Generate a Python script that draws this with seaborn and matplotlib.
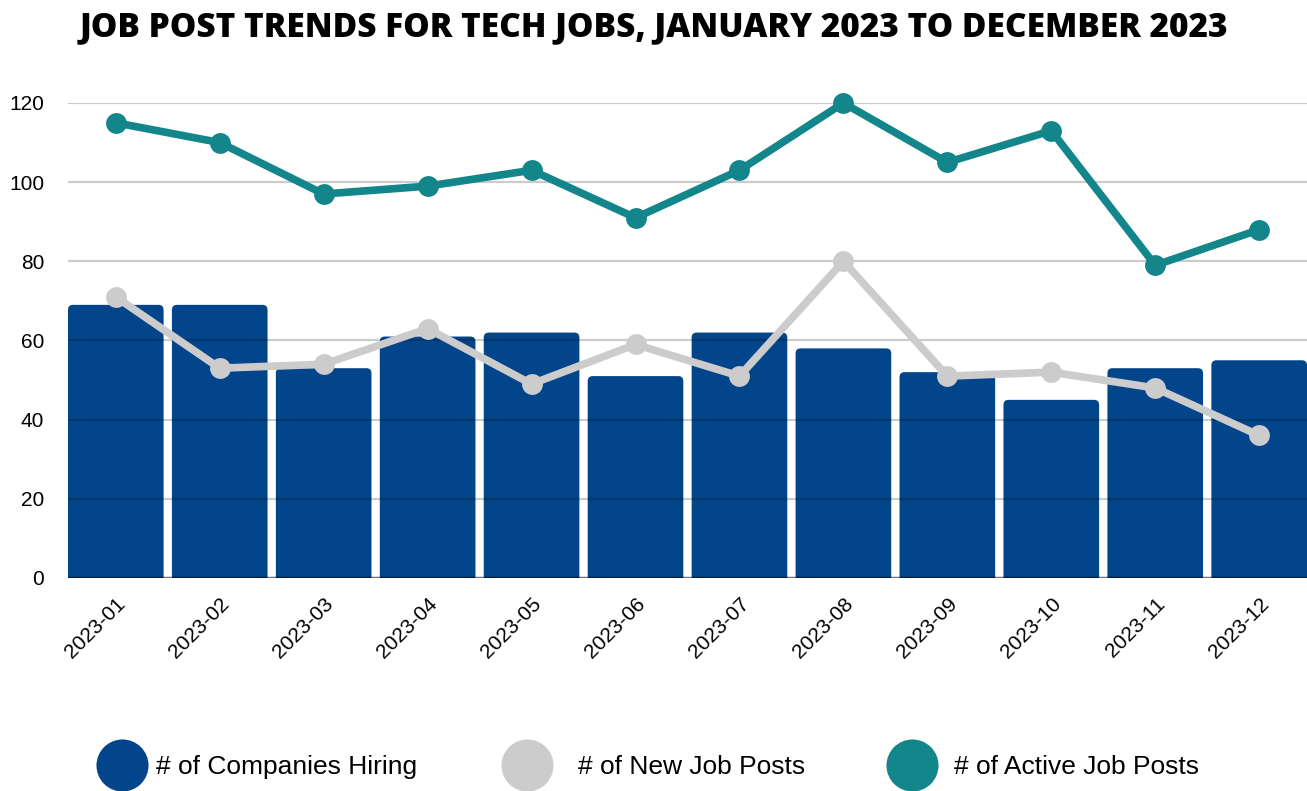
import matplotlib
matplotlib.use("Agg")
import matplotlib.pyplot as plt
from matplotlib.lines import Line2D
from matplotlib.patches import FancyBboxPatch
import numpy as np
import pandas as pd
import seaborn as sns

months = ["2023-01", "2023-02", "2023-03", "2023-04", "2023-05", "2023-06",
          "2023-07", "2023-08", "2023-09", "2023-10", "2023-11", "2023-12"]
companies_hiring = [69, 69, 53, 61, 62, 51, 62, 58, 52, 45, 53, 55]
new_job_posts = [71, 53, 54, 63, 49, 59, 51, 80, 51, 52, 48, 36]
active_job_posts = [115, 110, 97, 99, 103, 91, 103, 120, 105, 113, 79, 88]
y_ticks = [0, 20, 40, 60, 80, 100, 120]

NAVY = "#03458A"
GREY = "#CCCCCC"
TEAL = "#12868A"

sns.set_theme(style="white")
plt.rcParams["font.family"] = ["Liberation Sans", "DejaVu Sans"]
plt.rcParams["text.color"] = "black"

df = pd.DataFrame({
    "month": months,
    "idx": np.arange(len(months)),
    "companies": companies_hiring,
    "new": new_job_posts,
    "active": active_job_posts,
})

fig = plt.figure(figsize=(13.07, 7.91), dpi=100)
ax = fig.add_axes([0.052, 0.2693, 0.948, 0.6005])

sns.barplot(data=df, x="month", y="companies", color=NAVY, width=0.92,
            saturation=1, ax=ax, zorder=2)

ax.set_xlim(-0.46, len(months) - 0.54)
ax.set_ylim(0, 120)

# give the bars softly rounded top corners
px_x = ax.get_window_extent().width / (ax.get_xlim()[1] - ax.get_xlim()[0])
px_y = ax.get_window_extent().height / (ax.get_ylim()[1] - ax.get_ylim()[0])
radius = 5.0 / px_x
for bar in list(ax.patches):
    x0, w, h = bar.get_x(), bar.get_width(), bar.get_height()
    rounded = FancyBboxPatch((x0, -5), w, h + 5,
                             boxstyle=f"round,pad=0,rounding_size={radius}",
                             mutation_aspect=px_x / px_y,
                             facecolor=bar.get_facecolor(), edgecolor="none",
                             zorder=2)
    rounded.set_clip_path(ax.patch)
    bar.remove()
    ax.add_patch(rounded)

# light grid drawn over the bars so it darkens them slightly
for t in y_ticks[1:]:
    ax.axhline(t, color="black", alpha=0.2, lw=1.6, zorder=3)
ax.axhline(0, color="black", alpha=0.55, lw=2.5, zorder=3)

sns.lineplot(data=df, x="idx", y="new", color=GREY, lw=5.5, marker="o",
             markersize=15, markeredgewidth=0, ax=ax, zorder=4, clip_on=False)
sns.lineplot(data=df, x="idx", y="active", color=TEAL, lw=5.5, marker="o",
             markersize=15, markeredgewidth=0, ax=ax, zorder=5, clip_on=False)

ax.set_xlim(-0.46, len(months) - 0.54)
ax.set_ylim(0, 120)
ax.set_yticks(y_ticks)
ax.set_yticklabels([str(t) for t in y_ticks], fontsize=15)
ax.set_xticks(range(len(months)))
ax.set_xticklabels(months, fontsize=15, rotation=45, ha="right",
                   rotation_mode="anchor")
ax.tick_params(axis="y", length=0, pad=17, colors="black")
ax.tick_params(axis="x", length=0, pad=12, colors="black")
ax.set_xlabel("")
ax.set_ylabel("")
for s in ax.spines.values():
    s.set_visible(False)
ax.grid(False)

fig.text(0.5, 1 - 36 / 791,
         "JOB POST TRENDS FOR TECH JOBS, JANUARY 2023 TO DECEMBER 2023",
         ha="center", va="baseline", fontsize=24, fontweight=800, color="black",
         family=["Open Sans", "DejaVu Sans"])

# one legend entry per series, each placed on its own
legend_items = [
    (NAVY, "# of Companies Hiring", 96, 0.30),
    (GREY, "# of New Job Posts", 501, 0.95),
    (TEAL, "# of Active Job Posts", 886, 0.60),
]
fs = 19
for color, label, left_px, pad in legend_items:
    handle = Line2D([], [], ls="none", marker="o", markersize=37.5, color=color,
                    markeredgewidth=0)
    fig.legend([handle], [label], loc="center left",
               bbox_to_anchor=(left_px / 1307, 1 - 767 / 791),
               frameon=False, fontsize=fs, handletextpad=pad,
               handlelength=37.5 / fs, borderpad=0, borderaxespad=0,
               labelcolor="black")

fig.savefig("out.png", dpi=100)
